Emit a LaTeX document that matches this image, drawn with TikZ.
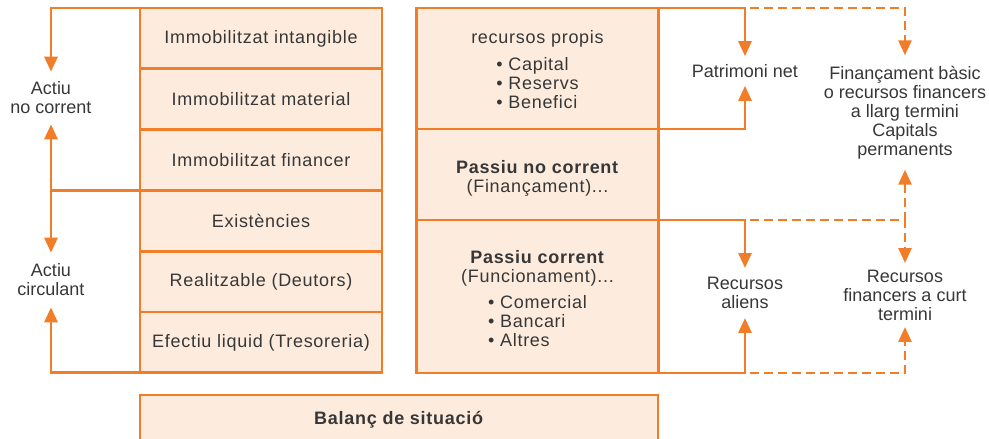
\documentclass[tikz,border=0pt]{standalone}
\usepackage{fontspec}
\setmainfont[LetterSpace=4]{Liberation Sans}
\newfontfamily\lblfont{Liberation Sans}
\usepackage{xcolor}
\usepackage{tikz}
\usetikzlibrary{positioning}
\usetikzlibrary{arrows, arrows.meta}

\definecolor{balorange}{RGB}{242,125,40}
\definecolor{balfill}{RGB}{253,236,222}
\definecolor{baltext}{RGB}{55,55,55}

\tikzset{
  cell/.style={draw=balorange, fill=balfill, line width=2.8pt, outer sep=0pt,
    inner sep=0pt, minimum width=242pt, minimum height=60.8pt, align=center,
    text=baltext, font=\fontsize{18}{19}\selectfont},
  lbl/.style={text=baltext, font=\lblfont\fontsize{18}{19}\selectfont, align=center,
    inner xsep=0pt, inner ysep=#1},
  link/.style={draw=balorange, line width=2.8pt},
  linkd/.style={link, dash pattern=on 9pt off 5pt, dash phase=9pt},
  tip/.style={-{Triangle[length=15pt,width=13pt]}}
}

\begin{document}
\begin{tikzpicture}[x=1pt,y=-1pt]
  \useasboundingbox (0,0) rectangle (989,439);

  % actiu
  \node[cell] (imint) at (261,38.4) {Immobilitzat intangible};
  \node[cell, below=0pt of imint] (immat) {Immobilitzat material};
  \node[cell, below=0pt of immat] (imfin) {Immobilitzat financer};
  \node[cell, below=0pt of imfin] (exist) {Existències};
  \node[cell, below=0pt of exist] (realt) {Realitzable (Deutors)};
  \node[cell, below=0pt of realt] (efect) {Efectiu liquid (Tresoreria)};

  % passiu
  \node[cell, minimum height=121pt] (propi) at (537.5,68.5)
    {\rule{0pt}{21pt}recursos propis\\[8pt]\begin{tabular}[t]{@{}l@{}}\textbullet\ Capital\\
     \textbullet\ Reservs\\ \textbullet\ Benefici\end{tabular}};
  \node[cell, minimum height=91pt, below=0pt of propi] (pnc)
    {\rule{0pt}{21pt}\textbf{Passiu no corrent}\\(Finançament)...};
  \node[cell, minimum height=153pt, below=0pt of pnc] (pcor)
    {\rule{0pt}{23pt}\textbf{Passiu corrent}\\(Funcionament)...\\[7pt]\begin{tabular}[t]{@{}l@{}}\textbullet\ Comercial\\
     \textbullet\ Bancari\\ \textbullet\ Altres\end{tabular}};

  \node[cell, minimum width=518pt, minimum height=50pt] (bal) at (399,420)
    {\textbf{Balanç de situació}};

  \node[lbl=10pt] (anc) at (51,98) {Actiu\\no corrent};
  \node[lbl=11pt] (acirc) at (51,280) {Actiu\\circulant};
  \node[lbl=8pt] (patr) at (745,71) {Patrimoni net};
  \node[lbl=9pt] (ralie) at (745,293) {Recursos\\aliens};
  \node[lbl=10.5pt] (fbas) at (905,112.5)
    {Finançament bàsic\\o recursos financers\\a llarg termini\\Capitals\\permanents};
  \node[lbl=6.5pt] (rfin) at (905,295) {Recursos\\financers a curt\\termini};

  \draw[link, tip] (imint.north west) -| (anc.north);
  \draw[link, tip] (imfin.south west) -| (anc.south);
  \draw[link, tip] (exist.north west) -| (acirc.north);
  \draw[link, tip] (efect.south west) -| (acirc.south);

  \draw[link, tip] (propi.north east) -| (patr.north);
  \draw[link, tip] (propi.south east) -| (patr.south);
  \draw[link, tip] (pcor.north east) -| (ralie.north);
  \draw[link, tip] (pcor.south east) -| (ralie.south);

  \coordinate (ptop) at (patr.north |- propi.north);
  \coordinate (pmid) at (patr.north |- pcor.north);
  \coordinate (pbot) at (patr.north |- pcor.south);

  \draw[linkd, tip] (ptop) -| (fbas.north);
  \draw[linkd, tip] (pmid) -| (fbas.south);
  \draw[linkd, tip] (pmid) -| (rfin.north);
  \draw[linkd, tip] (pbot) -| (rfin.south);
\end{tikzpicture}
\end{document}
